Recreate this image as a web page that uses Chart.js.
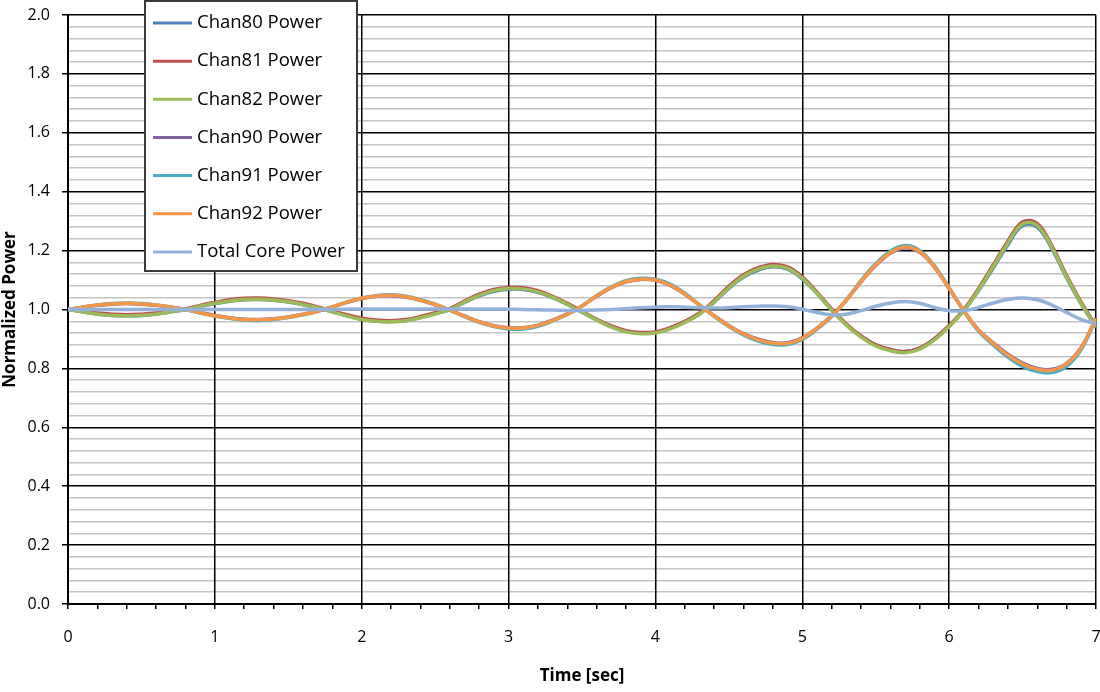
<!DOCTYPE html>
<html><head><meta charset="utf-8">
<script src="https://cdn.jsdelivr.net/npm/chart.js@4.4.1/dist/chart.umd.min.js"></script>
<style>html,body{margin:0;padding:0;background:#fff}</style>
</head><body>
<canvas id="c" width="1100" height="692"></canvas>
<script>
const time = [0.0,0.1,0.2,0.3,0.4,0.5,0.6,0.7,0.8,0.9,
 1.0,1.1,1.2,1.3,1.4,1.5,1.6,1.7,1.8,1.9,
 2.0,2.1,2.2,2.3,2.4,2.5,2.6,2.7,2.8,2.9,
 3.0,3.1,3.2,3.3,3.4,3.5,3.6,3.7,3.8,3.9,
 4.0,4.1,4.2,4.3,4.4,4.5,4.6,4.7,4.8,4.9,
 5.0,5.1,5.2,5.3,5.4,5.5,5.6,5.7,5.8,5.9,
 6.0,6.1,6.2,6.3,6.4,6.5,6.6,6.7,6.8,6.9,
 7.0];

const chan80 = [1.000,0.992,0.985,0.980,0.979,0.980,0.985,0.992,1.000,1.011,
 1.020,1.028,1.033,1.034,1.031,1.025,1.016,1.005,0.992,0.979,
 0.967,0.961,0.959,0.963,0.973,0.986,1.000,1.024,1.046,1.062,
 1.069,1.068,1.058,1.040,1.017,0.991,0.965,0.942,0.926,0.920,
 0.922,0.936,0.957,0.985,1.025,1.072,1.110,1.134,1.145,1.137,
 1.104,1.054,0.998,0.949,0.909,0.880,0.864,0.857,0.869,0.900,
 0.944,0.997,1.064,1.141,1.220,1.285,1.280,1.206,1.107,1.018,
 0.940];

const chan81 = [1.000,0.995,0.988,0.984,0.982,0.984,0.988,0.995,1.002,1.014,
 1.024,1.033,1.038,1.039,1.036,1.030,1.021,1.009,0.995,0.982,
 0.970,0.964,0.962,0.966,0.976,0.989,1.003,1.029,1.052,1.068,
 1.075,1.074,1.064,1.045,1.021,0.994,0.967,0.944,0.928,0.922,
 0.924,0.938,0.960,0.988,1.030,1.079,1.118,1.142,1.153,1.145,
 1.111,1.059,1.002,0.951,0.910,0.880,0.864,0.857,0.869,0.901,
 0.946,1.000,1.071,1.151,1.232,1.297,1.292,1.216,1.115,1.024,
 0.944];

const chan82 = [1.000,0.992,0.984,0.980,0.978,0.980,0.984,0.992,1.000,1.011,
 1.021,1.029,1.034,1.035,1.032,1.026,1.017,1.006,0.992,0.978,
 0.966,0.960,0.958,0.962,0.972,0.985,1.000,1.025,1.048,1.064,
 1.071,1.070,1.060,1.041,1.018,0.991,0.964,0.940,0.924,0.918,
 0.920,0.934,0.956,0.984,1.026,1.074,1.113,1.137,1.148,1.140,
 1.106,1.055,0.998,0.947,0.906,0.876,0.860,0.853,0.865,0.897,
 0.942,0.996,1.066,1.145,1.225,1.290,1.285,1.210,1.110,1.020,
 0.940];

const chan90 = [1.000,1.008,1.014,1.018,1.020,1.018,1.014,1.008,1.000,0.990,
 0.980,0.972,0.967,0.966,0.969,0.975,0.984,0.994,1.009,1.024,
 1.037,1.045,1.047,1.042,1.031,1.016,0.998,0.978,0.959,0.945,
 0.938,0.938,0.947,0.964,0.985,1.012,1.045,1.074,1.094,1.102,
 1.099,1.082,1.052,1.015,0.979,0.945,0.918,0.899,0.888,0.887,
 0.904,0.937,0.979,1.032,1.094,1.149,1.191,1.210,1.194,1.144,
 1.071,0.996,0.931,0.887,0.848,0.818,0.800,0.797,0.817,0.872,
 0.970];

const chan91 = [1.000,1.008,1.015,1.020,1.022,1.020,1.015,1.008,1.000,0.988,
 0.978,0.970,0.964,0.963,0.966,0.973,0.982,0.994,1.009,1.026,
 1.039,1.047,1.050,1.045,1.033,1.018,0.998,0.976,0.956,0.942,
 0.934,0.934,0.943,0.961,0.983,1.012,1.047,1.077,1.098,1.106,
 1.103,1.086,1.055,1.016,0.977,0.942,0.914,0.893,0.882,0.881,
 0.898,0.933,0.976,1.033,1.098,1.155,1.198,1.217,1.200,1.148,
 1.073,0.995,0.927,0.880,0.838,0.807,0.789,0.786,0.807,0.865,
 0.968];

const chan92 = [1.000,1.008,1.015,1.019,1.021,1.019,1.015,1.008,1.000,0.989,
 0.979,0.971,0.966,0.965,0.968,0.974,0.983,0.994,1.009,1.025,
 1.038,1.046,1.048,1.043,1.032,1.017,0.998,0.977,0.958,0.944,
 0.937,0.937,0.946,0.963,0.984,1.012,1.046,1.075,1.095,1.103,
 1.100,1.083,1.053,1.015,0.978,0.944,0.917,0.897,0.886,0.885,
 0.902,0.936,0.978,1.032,1.095,1.151,1.193,1.212,1.196,1.145,
 1.072,0.996,0.930,0.885,0.845,0.815,0.797,0.794,0.815,0.870,
 0.970];

const totalCore = [1.000,1.000,1.000,1.000,1.000,1.000,1.000,1.000,1.000,1.000,
 1.000,1.000,1.000,1.000,1.000,1.000,1.000,1.000,1.000,1.001,
 1.002,1.002,1.002,1.002,1.002,1.002,1.002,1.002,1.002,1.002,
 1.001,1.000,0.999,0.998,0.997,0.997,0.998,1.000,1.003,1.006,
 1.008,1.009,1.008,1.006,1.005,1.006,1.009,1.011,1.012,1.009,
 1.001,0.990,0.982,0.984,0.996,1.011,1.022,1.027,1.021,1.007,
 0.996,0.996,1.007,1.022,1.034,1.039,1.033,1.015,0.990,0.966,
 0.952];

const seriesNames = ['Chan80 Power','Chan81 Power','Chan82 Power','Chan90 Power','Chan91 Power','Chan92 Power','Total Core Power'];
const seriesValues = [chan80, chan81, chan82, chan90, chan91, chan92, totalCore];
const seriesColors = ['#4F81BD','#C0504D','#9BBB59','#8064A2','#4BACC6','#F79646','#93B1D9'];

const yTickLabels = ['0.0','0.2','0.4','0.6','0.8','1.0','1.2','1.4','1.6','1.8','2.0'];
const xTickLabels = ['0','1','2','3','4','5','6','7'];

Chart.defaults.font.family = '"Open Sans", "Liberation Sans", sans-serif';

const datasets = seriesNames.map((name, i) => ({
  label: name,
  data: time.map((t, k) => ({x: t, y: seriesValues[i][k]})),
  borderColor: seriesColors[i],
  backgroundColor: seriesColors[i],
  borderWidth: 3.5,
  pointRadius: 0,
  tension: 0.4,
  fill: false,
  order: seriesNames.length - i
}));

const isXMajor = v => Math.abs(v - Math.round(v)) < 1e-6;
const yIndex = v => Math.round(v / 0.04);
const isYMajor = v => yIndex(v) % 5 === 0;

const boxLegend = {
  id: 'boxLegend',
  afterDraw(chart) {
    const c = chart.ctx;
    c.save();
    const bx = 145, by = 1, bw = 212, bh = 270;
    c.fillStyle = '#fff';
    c.fillRect(bx, by, bw, bh);
    c.strokeStyle = '#3a3a3a';
    c.lineWidth = 2;
    c.strokeRect(bx, by, bw, bh);
    c.font = '18.5px "Open Sans"';
    c.textBaseline = 'middle';
    c.textAlign = 'left';
    chart.data.datasets.forEach((ds, i) => {
      const cy = 23 + i * 38.15;
      c.strokeStyle = ds.borderColor;
      c.lineWidth = 3;
      c.beginPath();
      c.moveTo(153, cy);
      c.lineTo(192, cy);
      c.stroke();
      c.fillStyle = '#000';
      c.fillText(ds.label, 197, cy);
    });
    c.restore();
  }
};

new Chart(document.getElementById('c'), {
  type: 'line',
  data: { datasets },
  options: {
    responsive: false,
    animation: false,
    layout: { padding: { top: 15, right: 4, left: 0, bottom: 0 } },
    plugins: { legend: { display: false }, tooltip: { enabled: false } },
    scales: {
      x: {
        type: 'linear', min: 0, max: 7,
        ticks: {
          stepSize: 0.2, autoSkip: false, maxRotation: 0, minRotation: 0,
          color: '#000', font: { size: 16 }, padding: 19,
          callback: v => isXMajor(v) ? xTickLabels[Math.round(v)] : ''
        },
        grid: {
          z: -1,
          color: ctx => (ctx.tick && isXMajor(ctx.tick.value)) ? '#000' : 'rgba(0,0,0,0)',
          lineWidth: 1.5, tickLength: 5, tickColor: '#000', drawTicks: true
        },
        border: { color: '#000', width: 2 },
        title: { display: true, text: 'Time [sec]', color: '#000', font: { size: 17, weight: 'bold' }, padding: { top: 0, bottom: 6 } },
        afterFit(s) { s.height = 88; s.paddingLeft = 0; s.paddingRight = 0; }
      },
      y: {
        min: 0, max: 2,
        ticks: {
          stepSize: 0.04, autoSkip: false, color: '#000', font: { size: 16 }, padding: 12,
          callback: v => isYMajor(v) ? yTickLabels[yIndex(v) / 5] : ''
        },
        grid: {
          z: -2,
          color: ctx => (ctx.tick && isYMajor(ctx.tick.value)) ? '#000' : '#c4c4c4',
          lineWidth: 1.5,
          tickLength: 6,
          tickColor: ctx => (ctx.tick && isYMajor(ctx.tick.value)) ? '#000' : 'rgba(0,0,0,0)'
        },
        border: { color: '#000', width: 2 },
        title: { display: true, text: 'Normalized Power', color: '#000', font: { size: 17, weight: 'bold' }, padding: 0 },
        afterFit(s) { s.width = 68; s.paddingTop = 0; s.paddingBottom = 0; }
      }
    }
  },
  plugins: [boxLegend]
});
</script>
</body></html>
